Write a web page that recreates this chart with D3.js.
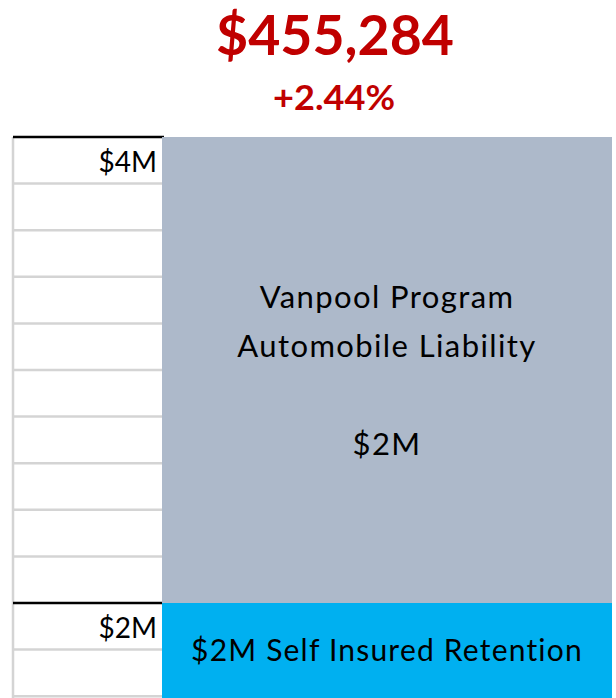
<!DOCTYPE html>
<html>
<head>
<meta charset="utf-8">
<script src="https://cdn.jsdelivr.net/npm/d3@7"></script>
<style>
  html, body { margin: 0; padding: 0; background: #fff; }
  svg { display: block; }
  text { font-family: Lato, 'Open Sans', sans-serif; }
</style>
</head>
<body>
<div id="app"></div>
<script>
// program summary
const premium = '$455,284';
const premiumChange = '+2.44%';

// layers of the insurance tower ($M)
const layerKeys = ['retention', 'liability'];
const layerLow = [0, 2];
const layerHigh = [2, 4];
const layerColors = ['#00B0F0', '#ADB9CA'];
const layerLabels = [
  ['$2M Self Insured Retention'],
  ['Vanpool Program', 'Automobile Liability', '', '$2M']
];

// grid rows on the left ($M)
const rowValues = [1.6, 1.8, 2.0, 2.2, 2.4, 2.6, 2.8, 3.0, 3.2, 3.4, 3.6, 3.8, 4.0];
const attachValues = [2, 4];
const attachLabels = ['$2M', '$4M'];

const W = 616, H = 698;
const svg = d3.select('#app').append('svg')
  .attr('width', W)
  .attr('height', H);

const colLeft = 13, colRight = 162, towerRight = 612;

const y = d3.scaleLinear()
  .domain([2, 4])
  .range([603, 137]);

const rowH = y(3.8) - y(4);

// title
svg.append('text')
  .attr('x', 335)
  .attr('y', 55)
  .attr('text-anchor', 'middle')
  .attr('font-size', 55)
  .attr('font-weight', 'bold')
  .attr('fill', '#C00000')
  .attr('textLength', 238)
  .attr('lengthAdjust', 'spacingAndGlyphs')
  .text(premium);

svg.append('text')
  .attr('x', 334)
  .attr('y', 110)
  .attr('text-anchor', 'middle')
  .attr('font-size', 35)
  .attr('font-weight', 'bold')
  .attr('fill', '#C00000')
  .attr('textLength', 122)
  .attr('lengthAdjust', 'spacingAndGlyphs')
  .text(premiumChange);

// spreadsheet grid column
const grid = svg.append('g').attr('class', 'grid');

grid.selectAll('line.row')
  .data(rowValues.filter(v => !attachValues.includes(v)))
  .enter().append('line')
    .attr('class', 'row')
    .attr('x1', colLeft)
    .attr('x2', colRight)
    .attr('y1', d => y(d))
    .attr('y2', d => y(d))
    .attr('stroke', '#D4D4D4')
    .attr('stroke-width', 2.5);

grid.append('line')
  .attr('x1', colLeft)
  .attr('x2', colLeft)
  .attr('y1', y(4))
  .attr('y2', H)
  .attr('stroke', '#D4D4D4')
  .attr('stroke-width', 2.5);

// layers
const layers = layerKeys.map((k, i) => ({
  key: k, low: layerLow[i], high: layerHigh[i], color: layerColors[i], label: layerLabels[i]
}));

const blocks = svg.selectAll('.layer')
  .data(layers)
  .enter().append('g')
    .attr('class', d => 'layer ' + d.key);

blocks.append('rect')
  .attr('x', colRight)
  .attr('width', towerRight - colRight)
  .attr('y', d => y(d.high))
  .attr('height', d => y(d.low) - y(d.high))
  .attr('fill', d => d.color);

blocks.each(function(d) {
  const top = Math.max(y(d.high), 0);
  const bottom = Math.min(y(d.low), H);
  const cy = (top + bottom) / 2;
  const n = d.label.length;
  const big = n > 1;
  d3.select(this).selectAll('text')
    .data(d.label)
    .enter().append('text')
      .attr('x', (colRight + towerRight) / 2)
      .attr('y', (t, i) => cy + (i - (n - 1) / 2) * 49)
      .attr('dy', '0.36em')
      .attr('text-anchor', 'middle')
      .attr('font-size', big ? 31 : 30)
      .attr('letter-spacing', big ? 1.4 : 1.2)
      .attr('fill', '#000')
      .text(t => t);
});

// attachment points
grid.selectAll('line.attach')
  .data(attachValues)
  .enter().append('line')
    .attr('class', 'attach')
    .attr('x1', colLeft)
    .attr('x2', colRight + 2)
    .attr('y1', d => y(d))
    .attr('y2', d => y(d))
    .attr('stroke', '#000')
    .attr('stroke-width', 2.5);

grid.selectAll('text.attach')
  .data(attachValues)
  .enter().append('text')
    .attr('class', 'attach')
    .attr('x', colRight - 5)
    .attr('y', d => y(d) + rowH - 12)
    .attr('text-anchor', 'end')
    .attr('font-size', 28)
    .attr('fill', '#000')
    .text((d, i) => attachLabels[i]);
</script>
</body>
</html>
